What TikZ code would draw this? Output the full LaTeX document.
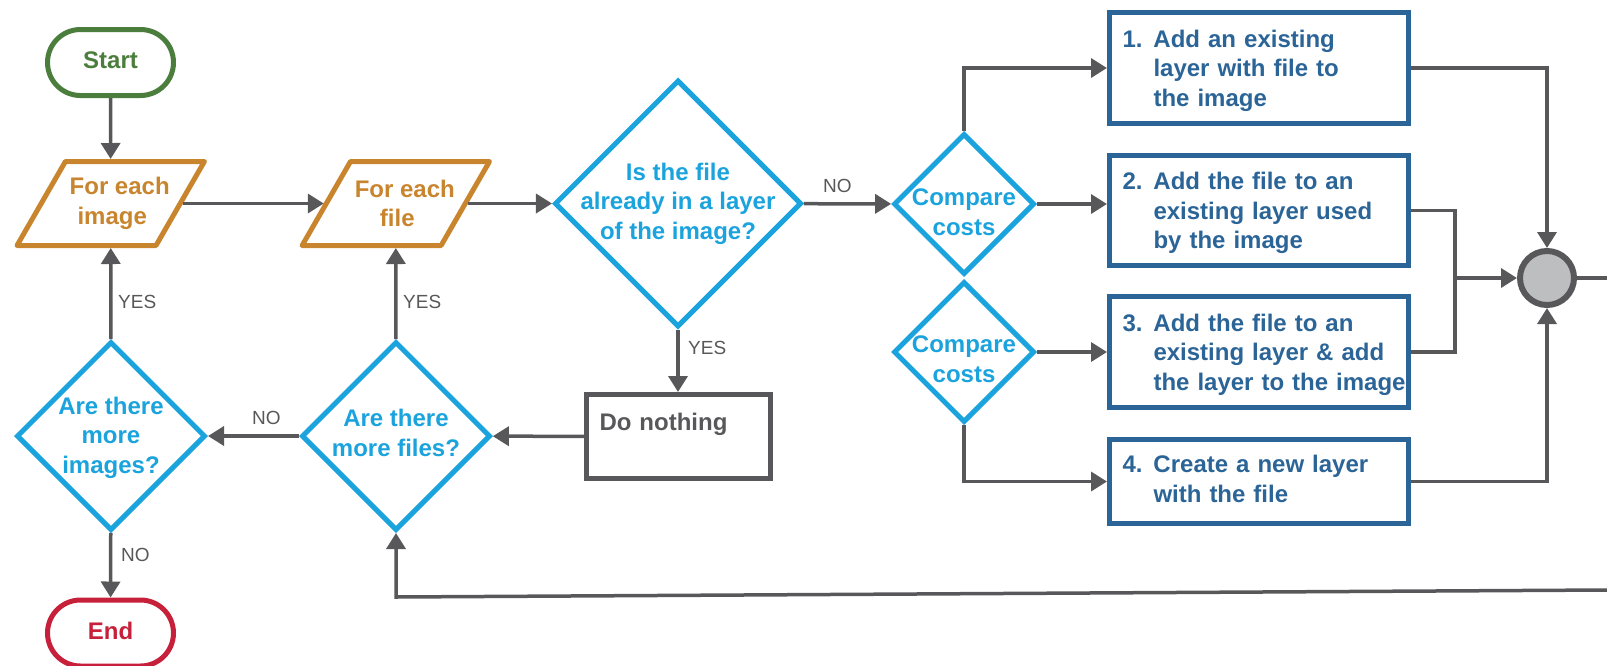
\documentclass[tikz,border=0pt]{standalone}
\usepackage{fontspec}
\setmainfont{Liberation Sans}
\usetikzlibrary{arrows.meta,shapes.geometric,calc}

\definecolor{cgreen}{HTML}{4B7D3C}
\definecolor{corange}{HTML}{C9852E}
\definecolor{cblue}{HTML}{1BA3DD}
\definecolor{cnavy}{HTML}{2B6497}
\definecolor{cred}{HTML}{C6203A}
\definecolor{cgray}{HTML}{58585A}
\definecolor{cfill}{HTML}{BDBEC0}

% parallelogram drawn around an (invisible) rectangular node
\newcommand\paragram[1]{%
  \draw[para] ($(#1.center)+(-45.3,-42)$) -- ($(#1.center)+(93.7,-42)$)
    -- ($(#1.center)+(45.3,42)$) -- ($(#1.center)+(-93.7,42)$) -- cycle;}
% shift node text vertically without changing the node size
\newcommand\nudge[2]{\raisebox{#1}[\height][\depth]{#2}}

\begin{document}
\begin{tikzpicture}[x=1pt,y=-1pt,
  every node/.style={font=\fontsize{24}{29.5}\selectfont\bfseries},
  term/.style={draw, line width=5pt, rounded corners=33pt,
    minimum width=126pt, minimum height=66pt},
  loopnode/.style={minimum width=139pt, minimum height=84pt, inner sep=0pt,
    outer sep=0pt, align=center, text=corange},
  para/.style={draw=corange, line width=5pt, line join=round},
  decision/.style={diamond, draw=cblue, line width=5pt, inner sep=0pt,
    minimum width=#1, minimum height=#1},
  dtext/.style={text=cblue, align=center, inner sep=0pt},
  action/.style={draw=cnavy, line width=5pt, text=cnavy, align=left,
    text width=273pt, inner xsep=13pt, minimum width=299pt},
  idle/.style={draw=cgray, line width=5pt, text=cgray, align=left,
    text width=158pt, inner xsep=13pt, minimum width=184pt, minimum height=84pt},
  merge/.style={circle, draw=cgray, fill=cfill, line width=6pt,
    minimum size=54pt, inner sep=0pt},
  wire/.style={draw=cgray, line width=3.5pt},
  arr/.style={wire, -{Triangle[length=16pt,width=19pt]}},
  lab/.style={font=\fontsize{19}{22}\selectfont, text=cgray, inner sep=0pt,
    anchor=west},
]
\useasboundingbox (0,0) rectangle (1607,665);

% terminators
\node[term, draw=cgreen, text=cgreen] (start) at (110.5,62.5) {\nudge{2.5pt}{Start}};
\node[term, draw=cred, text=cred] (stop) at (110.5,633) {\nudge{2pt}{End}};

% loops
\node[loopnode] (img) at (110.7,203.5) {\hspace*{18pt}For each\\\hspace*{3pt}image};
\node[loopnode] (file) at (395.8,203.5) {\hspace*{18pt}For each\\\hspace*{3pt}file};
\paragram{img}
\paragram{file}

% decisions
\node[decision=247pt] (inlayer) at (678,203.5) {};
\node[dtext] (inlayerT) at (inlayer) {Is the file\\already in a layer\\of the image?};
\node[decision=189pt] (moreimg) at (111,436) {};
\node[dtext] (moreimgT) at ([yshift=-1.5pt]moreimg.center) {Are there\\more\\images?};
\node[decision=189pt] (morefile) at (396,436) {};
\node[dtext] (morefileT) at ([yshift=3pt]morefile.center) {Are there\\more files?};
\node[decision=141pt] (cmpA) at (964,204) {};
\node[dtext] (cmpAT) at ([yshift=-8pt]cmpA.center) {Compare\\costs};
\node[decision=141pt] (cmpB) at (964,352) {};
\node[dtext] (cmpBT) at ([yshift=-7pt]cmpB.center) {Compare\\costs};

% actions
\node[idle] (nothing) at (678.5,436.5) {Do nothing\\\mbox{}};
\node[action, minimum height=111pt] (optA) at (1259,68)
  {\nudge{-3pt}{\begin{tabular}{@{}p{31pt}@{}l@{}}1.&Add an existing\\&layer with file to\\&the image\end{tabular}}};
\node[action, minimum height=110pt] (optB) at (1259,210.5)
  {\nudge{-3pt}{\begin{tabular}{@{}p{31pt}@{}l@{}}2.&Add the file to an\\&existing layer used\\&by the image\end{tabular}}};
\node[action, minimum height=111pt] (optC) at (1259,352)
  {\nudge{-3pt}{\begin{tabular}{@{}p{31pt}@{}l@{}}3.&Add the file to an\\&existing layer \& add\\&the layer to the image\end{tabular}}};
\node[action, minimum height=84pt] (optD) at (1259,481.5)
  {\begin{tabular}{@{}p{31pt}@{}l@{}}4.&Create a new layer\\&with the file\end{tabular}};

\node[merge] (join) at (1547,278) {};
\coordinate (fork) at (1455,278);
\coordinate (outR) at (1607,278);
\coordinate (backR) at (1607,590);
\coordinate (backL) at (396,597);

% main flow
\draw[arr, shorten >=2.5pt] (start) -- (img);
\draw[arr, shorten <=2.5pt, shorten >=2.5pt] (img) -- (file);
\draw[arr, shorten <=2.5pt] (file) -- (inlayer);
\draw[arr] (inlayer) -- (cmpA);
\draw[arr] (inlayer.south) -- (inlayer.south |- nothing.north);
\draw[arr] (nothing) -- (morefile);
\draw[arr] (morefile) -- (moreimg);
\draw[arr, shorten >=2.5pt] (moreimg) -- (img);
\draw[arr, shorten >=2.5pt] (morefile) -- (file);
\draw[arr] (moreimg) -- (stop);

% options
\draw[arr] (cmpA.north) |- (optA.west);
\draw[arr] (cmpA.east) -- (cmpA.east -| optB.west);
\draw[arr] (cmpB.east) -- (cmpB.east -| optC.west);
\draw[arr] (cmpB.south) |- (optD.west);

% merging
\draw[arr] (optA.east) -| (join.north);
\draw[arr] (optD.east) -| (join.south);
\draw[wire] (optB.east) -| (fork) |- (optC.east);
\draw[arr] (fork) -- (join.west);
\draw[wire] (join.east) -- (outR);
\draw[arr] (backR) -- (backL) -- (morefile.south);

% branch labels
\node[lab] (y1) at (118,302) {YES};
\node[lab] (y2) at (403,302) {YES};
\node[lab] (y3) at (688,348) {YES};
\node[lab] (n1) at (823,186) {NO};
\node[lab] (n2) at (252,418) {NO};
\node[lab] (n3) at (121,555) {NO};
\end{tikzpicture}
\end{document}
